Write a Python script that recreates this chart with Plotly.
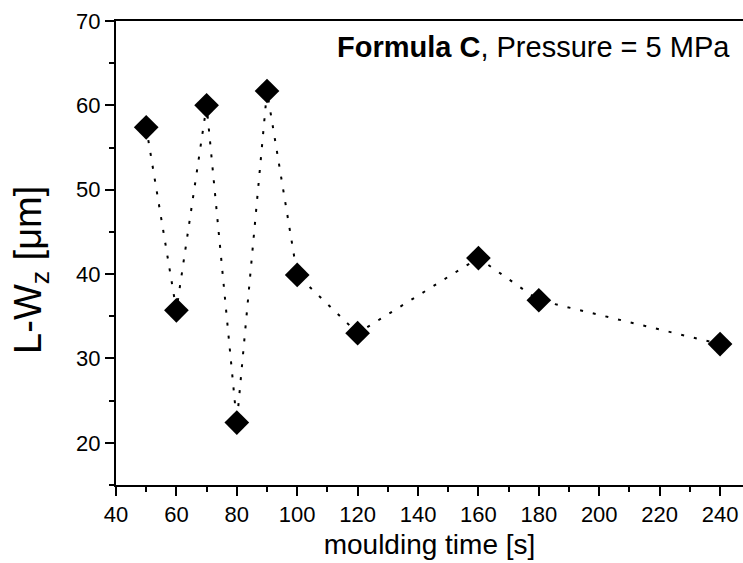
import plotly.graph_objects as go

moulding_time = [50, 60, 70, 80, 90, 100, 120, 160, 180, 240]
lwz = [57.4, 35.7, 60.0, 22.4, 61.7, 39.9, 33.0, 41.9, 36.9, 31.7]

x_ticks = list(range(40, 241, 20))
y_ticks = [20, 30, 40, 50, 60, 70]

FONT = "Liberation Sans, Arial, sans-serif"

fig = go.Figure()
fig.add_trace(go.Scatter(
    x=moulding_time, y=lwz, mode="lines+markers",
    line=dict(color="black", width=2, dash="3px,10px"),
    marker=dict(symbol="diamond", size=19, color="black"),
    showlegend=False,
))

axis_common = dict(
    showgrid=False, zeroline=False, showline=True, linecolor="black", linewidth=2,
    ticks="outside", ticklen=9, tickwidth=2, tickcolor="black",
    tickfont=dict(family=FONT, size=22, color="black"),
)

fig.update_xaxes(
    **axis_common, range=[40, 247.6], tickvals=x_ticks, mirror=True,
    minor=dict(ticks="outside", ticklen=5, tickwidth=2, tickcolor="black", dtick=10, showgrid=False),
    title=dict(text="moulding time [s]", font=dict(family=FONT, size=28, color="black"), standoff=8),
)
fig.update_yaxes(
    **axis_common, range=[15, 70], tickvals=y_ticks,
    minor=dict(ticks="outside", ticklen=5, tickwidth=2, tickcolor="black", dtick=5, showgrid=False),
)

fig.add_annotation(
    text="<b>Formula C</b>, Pressure = 5 MPa", xref="paper", yref="paper",
    x=0.982, y=0.944, xanchor="right", yanchor="middle", showarrow=False,
    font=dict(family=FONT, size=29, color="black"),
)
fig.add_annotation(
    text="L-W<sub>z</sub> [μm]", xref="paper", yref="paper",
    x=-0.136, y=0.463, xanchor="center", yanchor="middle", showarrow=False,
    textangle=-90, font=dict(family=FONT, size=38, color="black"),
)

fig.update_layout(
    width=743, height=563, margin=dict(l=116, r=0, t=21, b=78),
    paper_bgcolor="white", plot_bgcolor="white",
)
fig.write_html("out.html")
